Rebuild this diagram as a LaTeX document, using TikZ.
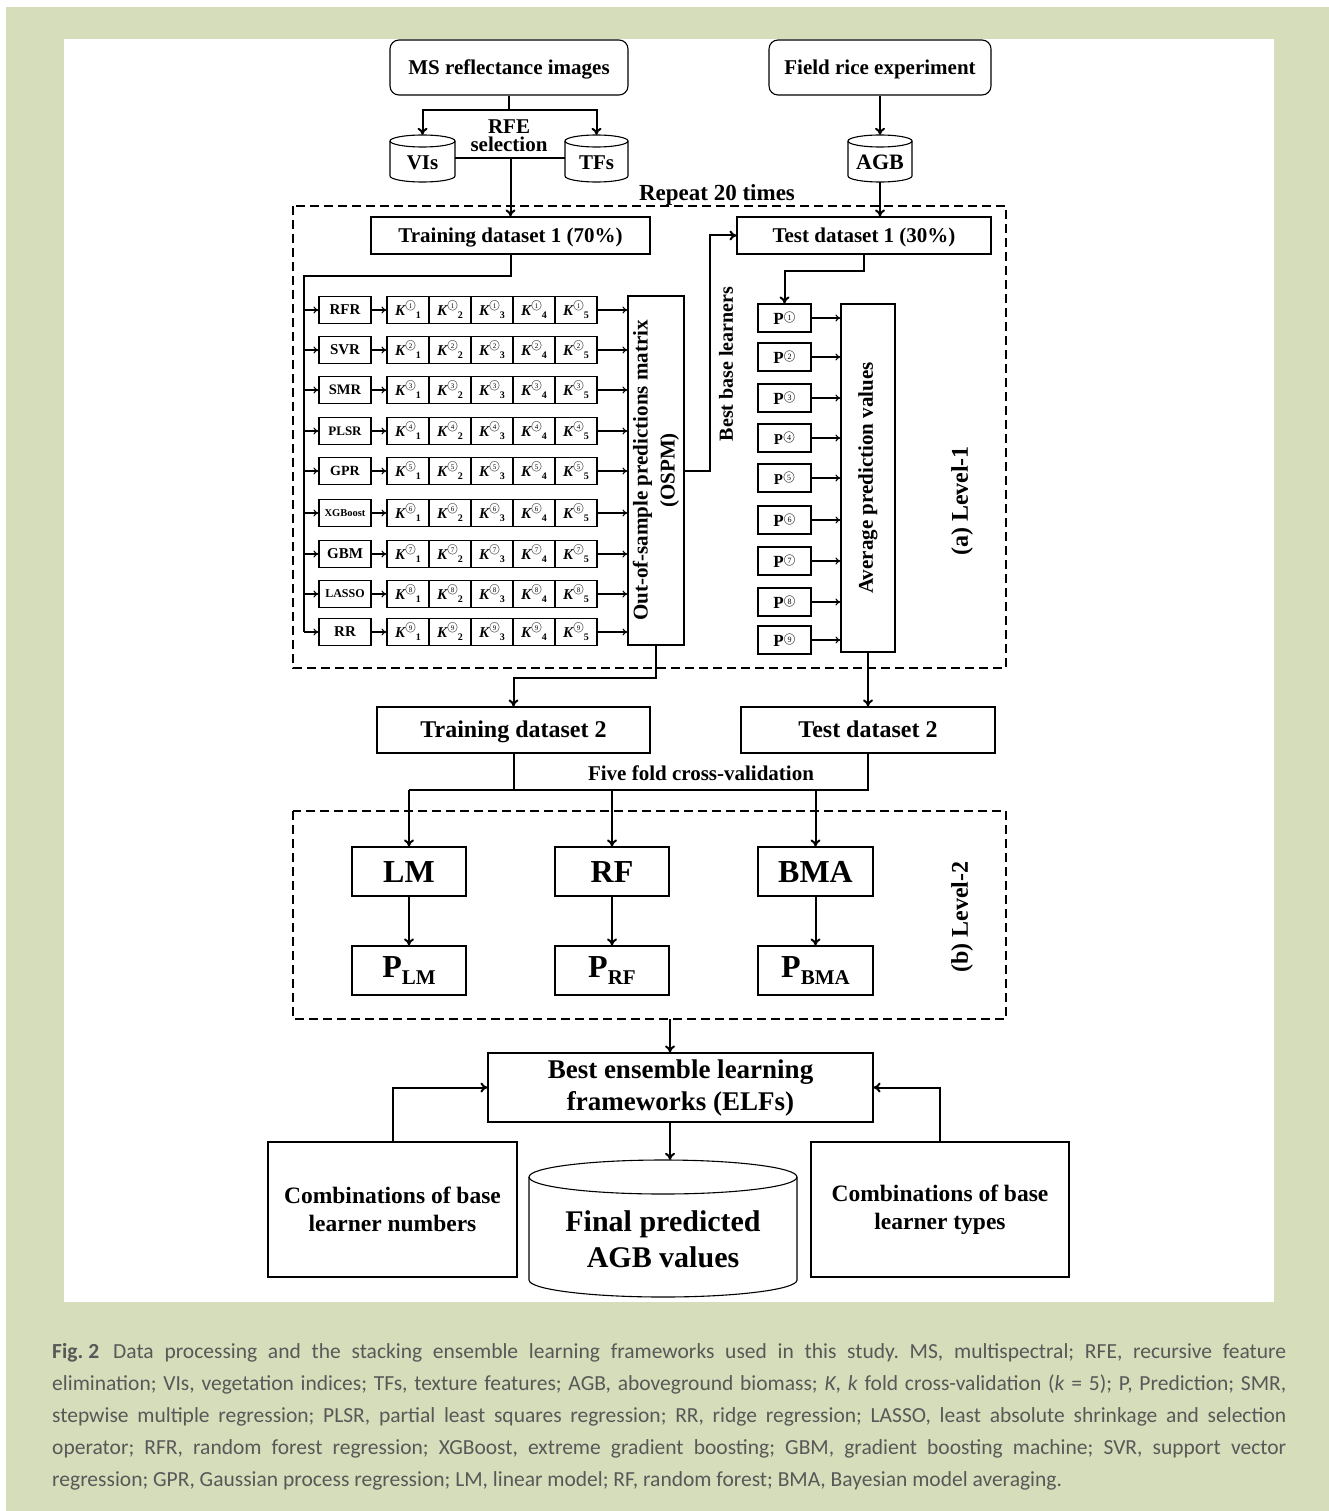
\documentclass[tikz,border=0pt]{standalone}
\usepackage{fontspec}
\setmainfont{Liberation Serif}
\newfontfamily\capfont{Carlito}
\usetikzlibrary{arrows.meta}
\definecolor{panelgreen}{HTML}{D6DDBA}
\definecolor{capgray}{HTML}{585858}
\newcommand\fs[1]{\fontsize{#1}{#1}\selectfont}
% circled digit: #1 digit, #2 circle size, #3 digit size
\newcommand\cdg[3]{{\fs{#2}\ooalign{$\bigcirc$\cr\hidewidth{\fs{#3}\mdseries\upshape #1}\hidewidth\cr}}}
\newcommand\Kc[2]{{\fs{15}\bfseries\itshape K}\raisebox{7.2pt}{\cdg{#1}{10.5}{7}}\raisebox{-3pt}{\fs{10}\bfseries #2}}
\newcommand\Pc[2]{{\fs{#2}\bfseries P}\raisebox{3.8pt}{\cdg{#1}{11.5}{8}}}
\begin{document}
\begin{tikzpicture}[x=1pt,y=1pt,
  bx/.style={draw, line width=1.1pt, inner sep=0pt, align=center, font=\bfseries},
  sl/.style={text height=#1, text depth=0pt},
  rbx/.style={bx, rounded corners=9pt},
  ghost/.style={inner sep=0pt, draw=none},
  conn/.style={line width=2pt, -{To[length=7pt,width=10pt]}},
  seg/.style={line width=2pt},
  thinarr/.style={line width=1.1pt, -{To[length=5pt,width=7pt]}},
  cylline/.style={line width=1.1pt},
  dbox/.style={line width=1.3pt, dash pattern=on 9pt off 5pt},
  lbl/.style={inner sep=0pt, font=\bfseries, align=center},
  capnode/.style={inner sep=0pt, text=capgray, font=\capfont\fs{21.5}\frenchspacing, anchor=base west}
]
\fill[panelgreen] (6,-7) rectangle (1329,-1511);
\fill[white] (64,-39) rectangle (1274,-1302);
\useasboundingbox (0,0) rectangle (1329,-1511);

% top boxes
\node[rbx, sl=13.9pt, minimum width=238, minimum height=55, font=\bfseries\fs{21}] (ms) at (509,-67.5) {MS reflectance images};
\node[rbx, sl=13.9pt, minimum width=222, minimum height=55, font=\bfseries\fs{21}] (field) at (880,-67.5) {Field rice experiment};

% cylinders
\node[ghost, minimum width=65, minimum height=47] (vis) at (422.5,-158.5) {};
\draw[cylline] (390,-141) -- (390,-176) arc[start angle=180, end angle=360, x radius=32.5, y radius=6] -- (455,-141);
\draw[cylline] (422.5,-141) ellipse[x radius=32.5, y radius=6];
\node[lbl, font=\bfseries\fs{21}] at (422.5,-163) {VIs};

\node[ghost, minimum width=63, minimum height=47] (tfs) at (596.5,-158.5) {};
\draw[cylline] (565,-141) -- (565,-176) arc[start angle=180, end angle=360, x radius=31.5, y radius=6] -- (628,-141);
\draw[cylline] (596.5,-141) ellipse[x radius=31.5, y radius=6];
\node[lbl, font=\bfseries\fs{21}] at (596.5,-163) {TFs};

\node[ghost, minimum width=64, minimum height=47] (agb) at (880,-158.5) {};
\draw[cylline] (848,-141) -- (848,-176) arc[start angle=180, end angle=360, x radius=32, y radius=6] -- (912,-141);
\draw[cylline] (880,-141) ellipse[x radius=32, y radius=6];
\node[lbl, font=\bfseries\fs{22}] at (880,-162) {AGB};

\node[lbl, font=\bfseries\fs{21}] (rfe) at (509,-136) {RFE\\[-3pt]selection};
\node[lbl, font=\bfseries\fs{23}] (rep) at (717,-195) {Repeat 20 times};

% dashed frames
\draw[dbox] (293,-206) rectangle (1006,-668);
\draw[dbox] (293,-811) rectangle (1006,-1019);

% level 1
\node[bx, sl=13.9pt, minimum width=279, minimum height=37, font=\bfseries\fs{21}] (tr1) at (510.5,-235.5) {Training dataset 1 (70\%)};
\node[bx, sl=13.9pt, minimum width=254, minimum height=37, font=\bfseries\fs{21}] (te1) at (864,-235.5) {Test dataset 1 (30\%)};

\node[bx, minimum width=56, minimum height=349] (ospm) at (656,-470.5) {};
\node[lbl, rotate=90, font=\bfseries\fs{21}] at (ospm.center) {Out-of-sample predictions matrix\\[6pt](OSPM)};

\node[bx, minimum width=54, minimum height=348] (avg) at (868,-478) {};
\node[lbl, rotate=90, font=\bfseries\fs{21}] at (avg.center) {Average prediction values};

\coordinate (bus) at (304,-276);

\foreach \i/\nm/\sz/\y in {1/RFR/15/310, 2/SVR/15/350, 3/SMR/14.5/390, 4/PLSR/13/431, 5/GPR/14/471, 6/XGBoost/10.5/513, 7/GBM/15/554, 8/LASSO/12/594, 9/RR/15/632}{
  \node[bx, minimum width=52, minimum height=27, font=\bfseries\fs{\sz}] (m\i) at (345,-\y) {\nm};
  \foreach \j in {1,...,5}{
    \node[bx, minimum width=42, minimum height=27] (k\i\j) at ({366+42*\j},-\y) {\Kc{\i}{\j}};
  }
  \draw[thinarr] (m\i.east) -- (k\i1.west);
  \draw[thinarr] (k\i5.east) -- (k\i5.east -| ospm.west);
}
\draw[seg] (tr1.south) |- (bus) -- (bus |- m9.west);
\foreach \i in {1,...,9}{
  \draw[thinarr] (bus |- m\i.west) -- (m\i.west);
}

\foreach \i/\y/\ps in {1/318/17, 2/357/17, 3/398/17, 4/438/15, 5/478/15, 6/520/17, 7/561/17, 8/602/17, 9/640/17}{
  \node[bx, minimum width=53, minimum height=28] (p\i) at (784.5,-\y) {\Pc{\i}{\ps}};
  \draw[thinarr] (p\i.east) -- (p\i.east -| avg.west);
}

\node[lbl, rotate=90, font=\bfseries\fs{20}] (bbl) at (726,-364) {Best base learners};
\node[lbl, rotate=90, font=\bfseries\fs{24}] (lv1) at (962,-501) {(a) Level-1};

% datasets 2
\node[bx, sl=15.9pt, minimum width=273, minimum height=46, font=\bfseries\fs{24}] (tr2) at (513.5,-730) {Training dataset 2};
\node[bx, sl=15.9pt, minimum width=254, minimum height=46, font=\bfseries\fs{24}] (te2) at (868,-730) {Test dataset 2};
\node[lbl, font=\bfseries\fs{21}] (ffcv) at (701,-773) {Five fold cross-validation};

% level 2
\node[bx, sl=21.2pt, minimum width=114, minimum height=49, font=\bfseries\fs{32}] (lm) at (409,-871.5) {LM};
\node[bx, sl=21.2pt, minimum width=114, minimum height=49, font=\bfseries\fs{32}] (rf) at (612,-871.5) {RF};
\node[bx, sl=21.2pt, minimum width=115, minimum height=49, font=\bfseries\fs{32}] (bma) at (815.5,-871.5) {BMA};
\node[bx, minimum width=114, minimum height=49, font=\bfseries\fs{32}] (plm) at (409,-970.5) {P\raisebox{-7pt}{\fs{21}LM}};
\node[bx, minimum width=114, minimum height=49, font=\bfseries\fs{32}] (prf) at (612,-970.5) {P\raisebox{-7pt}{\fs{21}RF}};
\node[bx, minimum width=115, minimum height=49, font=\bfseries\fs{32}] (pbma) at (815.5,-970.5) {P\raisebox{-7pt}{\fs{21}BMA}};
\node[lbl, rotate=90, font=\bfseries\fs{24}] (lv2) at (962,-917) {(b) Level-2};

% bottom
\node[bx, minimum width=385, minimum height=69, font=\bfseries\fs{27}] (best) at (680.5,-1087.5) {Best ensemble learning\\[5pt]frameworks (ELFs)};
\node[bx, minimum width=249, minimum height=135, font=\bfseries\fs{23.5}] (comb1) at (392.5,-1209.5) {Combinations of base\\[5pt]learner numbers};
\node[bx, minimum width=258, minimum height=135, font=\bfseries\fs{23.5}] (comb2) at (940,-1209.5) {Combinations of base\\[5pt]learner types};
\node[ghost, minimum width=268, minimum height=137] (fin) at (663,-1228.5) {};
\draw[cylline] (529,-1177) -- (529,-1280) arc[start angle=180, end angle=360, x radius=134, y radius=17] -- (797,-1177);
\draw[cylline] (663,-1177) ellipse[x radius=134, y radius=17];
\node[lbl, font=\bfseries\fs{30}] at (663,-1239) {Final predicted\\[6pt]AGB values};

% connectors
\coordinate (msj) at (509,-110);
\draw[seg] (ms.south) -- (msj);
\draw[conn] (msj) -| (vis.north);
\draw[conn] (msj) -| (tfs.north);
\draw[seg] (vis.east) -- (tfs.west);
\draw[conn] (vis.east -| tr1.north) -- (tr1.north);
\draw[conn] (field.south) -- (agb.north);
\draw[conn] (agb.south) -- (agb.south |- te1.north);
\coordinate (bb) at (710,-470.5);
\draw[conn] (ospm.east) -- (bb) |- (te1.west);
\draw[conn] (te1.south) -- ++(0,-16) -| (p1.north);
\draw[conn] (ospm.south) -- ++(0,-32) -| (tr2.north);
\draw[conn] (avg.south) -- (te2.north);
\coordinate (cvy) at (0,-790);
\draw[seg] (tr2.south) -- (tr2.south |- cvy);
\draw[seg] (te2.south) -- (te2.south |- cvy) -- (lm.north |- cvy);
\foreach \n in {lm,rf,bma}{\draw[conn] (\n.north |- cvy) -- (\n.north);}
\draw[conn] (lm.south) -- (plm.north);
\draw[conn] (rf.south) -- (prf.north);
\draw[conn] (bma.south) -- (pbma.north);
\coordinate (lv2b) at (670,-1019);
\draw[conn] (lv2b) -- (lv2b |- best.north);
\draw[conn] (comb1.north) |- (best.west);
\draw[conn] (comb2.north) |- (best.east);
\draw[conn] (best.south -| lv2b) -- (lv2b |- fin.north);

% caption
\node[capnode] (cap1) at (52,-1358) {\makebox[1234pt][s]{\textbf{Fig.\hspace{5pt}2}\hspace{14pt}Data processing and the stacking ensemble learning frameworks used in this study. MS, multispectral; RFE, recursive feature}};
\node[capnode] (cap2) at (52,-1390) {\makebox[1234pt][s]{elimination; VIs, vegetation indices; TFs, texture features; AGB, aboveground biomass; \textit{K}, \textit{k} fold cross-validation (\textit{k} = 5); P, Prediction; SMR,}};
\node[capnode] (cap3) at (52,-1422) {\makebox[1234pt][s]{stepwise multiple regression; PLSR, partial least squares regression; RR, ridge regression; LASSO, least absolute shrinkage and selection}};
\node[capnode] (cap4) at (52,-1454) {\makebox[1234pt][s]{operator; RFR, random forest regression; XGBoost, extreme gradient boosting; GBM, gradient boosting machine; SVR, support vector}};
\node[capnode] (cap5) at (52,-1486) {regression; GPR, Gaussian process regression; LM, linear model; RF, random forest; BMA, Bayesian model averaging.};
\end{tikzpicture}
\end{document}
